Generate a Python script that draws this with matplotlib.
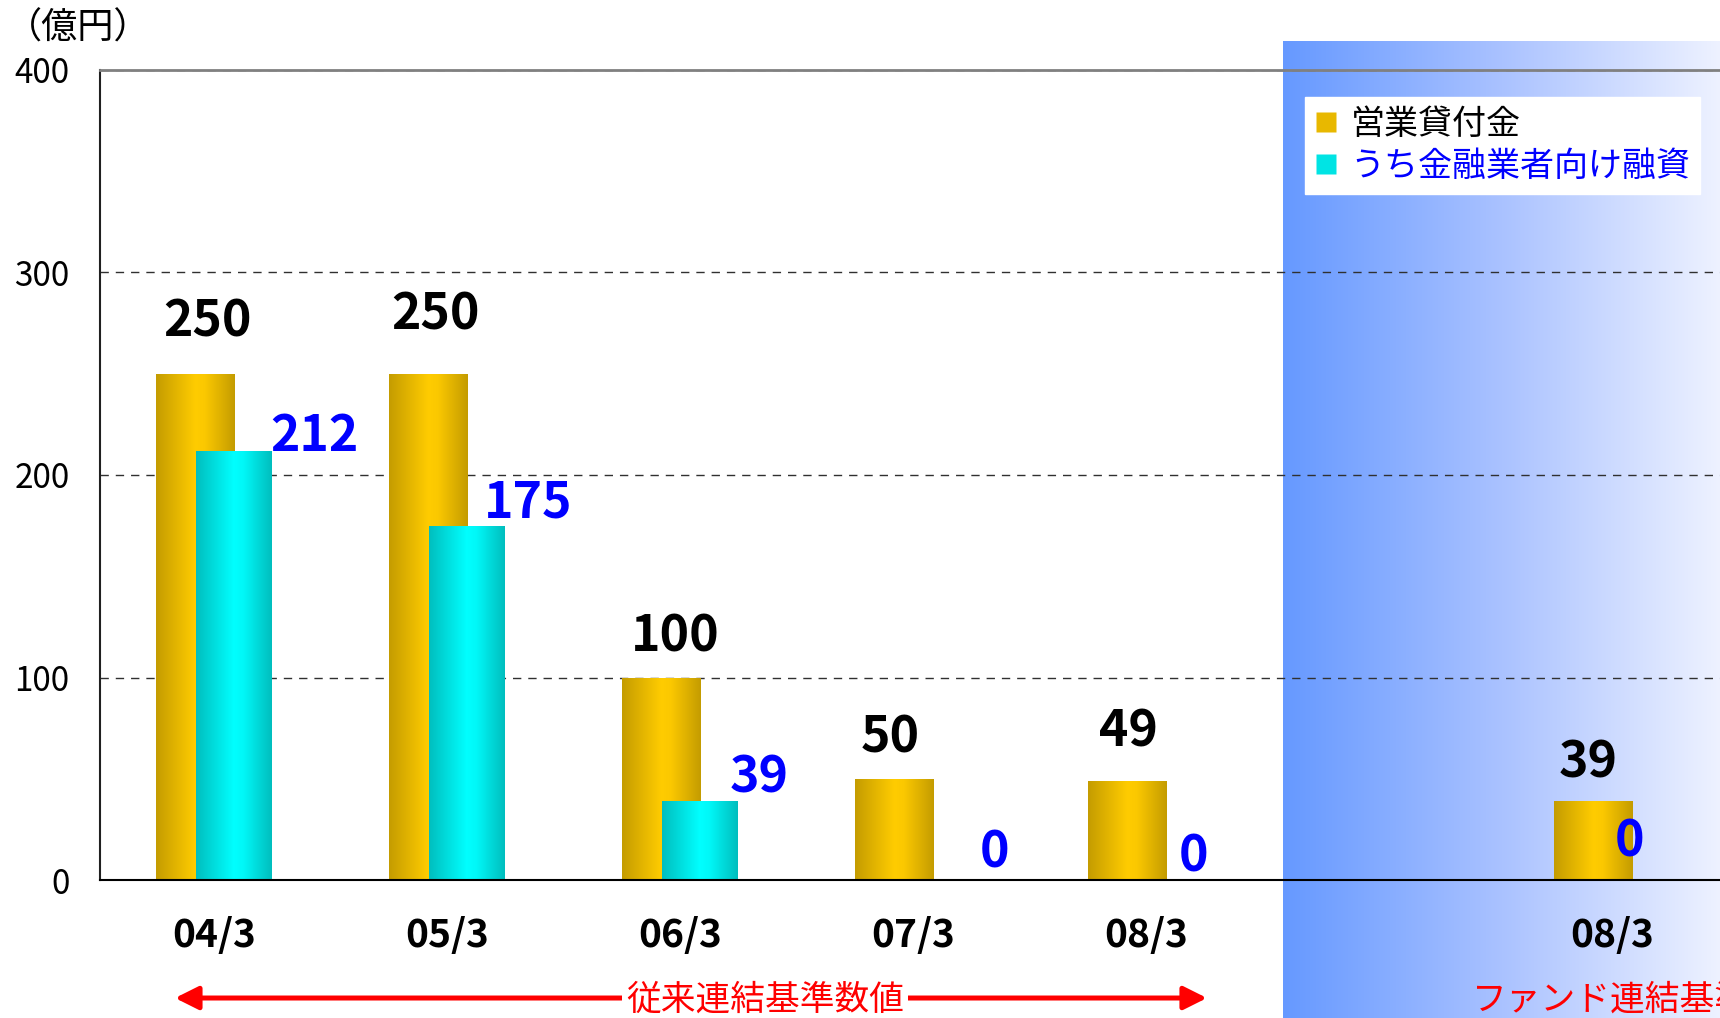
import matplotlib
matplotlib.use("Agg")
import matplotlib.pyplot as plt
import numpy as np
from matplotlib.colors import LinearSegmentedColormap
from matplotlib.lines import Line2D

plt.rcParams['font.family'] = ['Noto Sans CJK JP', 'DejaVu Sans']

# data
categories = ['04/3', '05/3', '06/3', '07/3', '08/3', '08/3']
positions = [0, 1, 2, 3, 4, 6]
loans = [250, 250, 100, 50, 49, 39]          # 営業貸付金
fin_loans = [212, 175, 39, 0, 0, 0]          # うち金融業者向け融資
yticks = [0, 100, 200, 300, 400]

# label nudges (points)
gold_dx = [9, 5, 10, -3, 1, -4]
gold_dy = [19, 24, 11, 11, 17, 9]
fin_dx = [-1, -15, -6, 6, -18, -40]
fin_dy = [0, 6, 6, 9, 6, 17]

gold_cmap = LinearSegmentedColormap.from_list(
    'gold', [(0, '#c49c00'), (0.5, '#ffcc00'), (0.62, '#fbc800'), (1, '#c49c00')])
cyan_cmap = LinearSegmentedColormap.from_list(
    'cyan', [(0, '#00bebe'), (0.5, '#00ffff'), (0.62, '#00f8f8'), (1, '#00bebe')])
panel_cmap = LinearSegmentedColormap.from_list('panel', ['#6699ff', '#aac2ff', '#eef2ff'])

fig = plt.figure(figsize=(17.2, 10.18), dpi=100)
ax = fig.add_axes([100 / 1720, 138 / 1018, 1620 / 1720, 810 / 1018])
ax.set_facecolor('none')

xmin, xmax = -0.489, 6.464
grad = np.linspace(0, 1, 256).reshape(1, -1)

# blue panel for the fund-consolidation column
ax.imshow(grad, cmap=panel_cmap, aspect='auto', extent=(4.588, xmax, -68.1, 414.3),
          clip_on=False, zorder=0)


def gradient_bars(xs, heights, width, offset, cmap, z):
    bars = ax.bar(np.array(xs) + offset, heights, width=width, align='edge',
                  color='none', edgecolor='none', zorder=z)
    for b in bars:
        if b.get_height() <= 0:
            continue
        x0, y0 = b.get_x(), b.get_y()
        im = ax.imshow(grad, cmap=cmap, aspect='auto',
                       extent=(x0, x0 + b.get_width(), y0, y0 + b.get_height()), zorder=z)
        im.set_clip_path(b)
    return bars


gold_bars = gradient_bars(positions, loans, 0.339, -0.249, gold_cmap, 2)
cyan_bars = gradient_bars(positions, fin_loans, 0.326, -0.077, cyan_cmap, 3)

for b, v, dx, dy in zip(gold_bars, loans, gold_dx, gold_dy):
    ax.annotate(str(v), (b.get_x() + b.get_width() / 2, v), xytext=(dx, dy),
                textcoords='offset points', ha='center', va='bottom',
                fontsize=36, fontweight='bold', color='black', zorder=5)

for b, v, dx, dy in zip(cyan_bars, fin_loans, fin_dx, fin_dy):
    ax.annotate(str(v), (b.get_x() + b.get_width(), v), xytext=(dx, dy),
                textcoords='offset points', ha='left', va='baseline',
                fontsize=36, fontweight='bold', color='#0000ff', zorder=5)

ax.set_xlim(xmin, xmax)
ax.set_ylim(0, 400)
ax.set_xticks(positions)
ax.set_xticklabels(categories, fontsize=28, fontweight='bold')
ax.set_yticks(yticks)
ax.set_yticklabels([str(t) for t in yticks], fontsize=24)
ax.tick_params(axis='x', length=0, pad=26)
ax.tick_params(axis='y', length=0, pad=22)

ax.set_axisbelow(True)
ax.yaxis.grid(True, linestyle=(0, (6, 5)), color='#303030', linewidth=1)
ax.spines['right'].set_visible(False)
ax.spines['top'].set_color('#808080')
ax.spines['top'].set_linewidth(2)
ax.spines['left'].set_color('#202020')
ax.spines['left'].set_linewidth(1.5)
ax.spines['bottom'].set_color('black')
ax.spines['bottom'].set_linewidth(1.5)
for s in ax.spines.values():
    s.set_zorder(4)

fig.text(6 / 1720, 1 - 29 / 1018, '（億円）', fontsize=26, ha='left', va='center')

# legend
handles = [Line2D([], [], marker='s', ls='', markersize=15, markerfacecolor='#e8b800',
                  markeredgecolor='none'),
           Line2D([], [], marker='s', ls='', markersize=15, markerfacecolor='#00e4e4',
                  markeredgecolor='none')]
leg = ax.legend(handles, ['営業貸付金', 'うち金融業者向け融資'], loc='upper right',
                bbox_to_anchor=(0.9877, 0.9667), borderaxespad=0, fontsize=24.5,
                fancybox=False, framealpha=1, edgecolor='white', handlelength=0.65,
                handletextpad=0.4, labelspacing=0.22, borderpad=0.28)
leg.set_zorder(6)
leg.get_texts()[0].set_color('black')
leg.get_texts()[1].set_color('#0000ff')

# bottom annotations
trans = ax.get_xaxis_transform()
ax.annotate('', xy=(4.262, -0.1457), xytext=(-0.167, -0.1457), xycoords=trans,
            textcoords=trans,
            arrowprops=dict(arrowstyle='<|-|>,head_length=1.4,head_width=0.7',
                            color='red', lw=3.6, shrinkA=0, shrinkB=0),
            annotation_clip=False)
ax.text(2.365, -0.148, '従来連結基準数値', transform=trans, ha='center', va='center',
        fontsize=25, color='red', clip_on=False,
        bbox=dict(facecolor='white', edgecolor='none', pad=3))
ax.text(5.40, -0.148, 'ファンド連結基準数値', transform=trans, ha='left', va='center',
        fontsize=25, color='red', clip_on=False)

plt.savefig('out.png', dpi=100)
